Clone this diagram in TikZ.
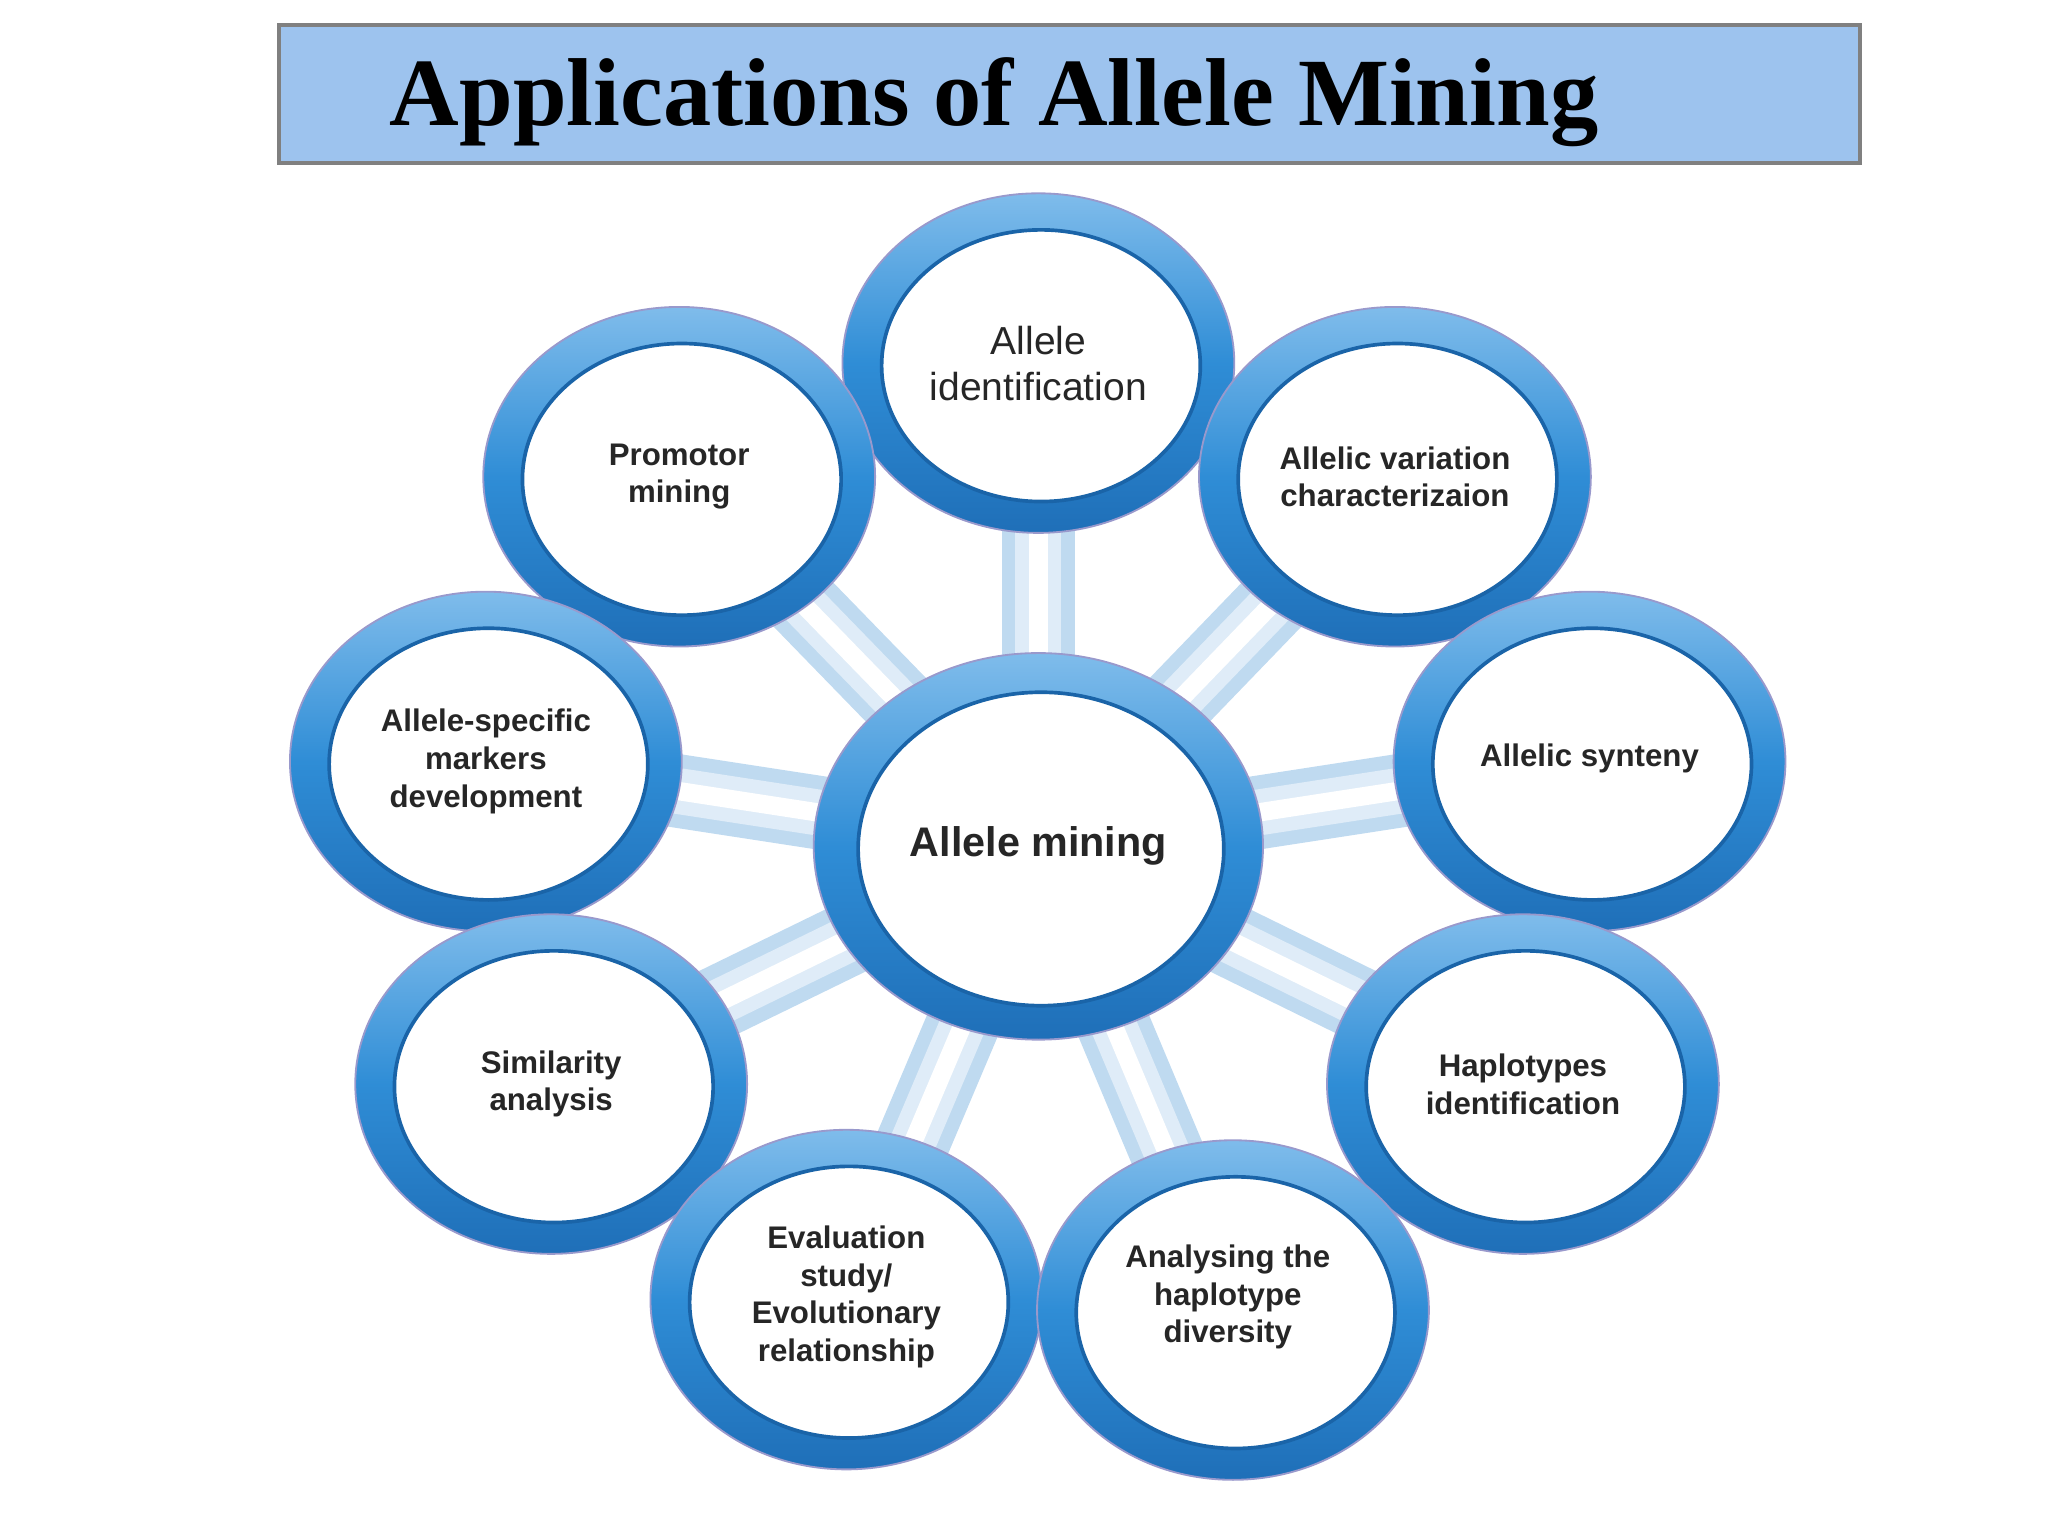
\documentclass[tikz,border=0pt]{standalone}
\usetikzlibrary{calc}
\usepackage{fontspec}
\setmainfont{Liberation Serif}
\setsansfont{Liberation Sans}
\begin{document}
\begin{tikzpicture}[x=0.01cm,y=-0.01cm,
  ring/.style={draw=blue!50!black!40,line width=0.4pt,top color=ringhi,bottom color=ringlo,middle color=ringmid},
  hole/.style={fill=white,draw=ringdk,line width=0.8pt},
  lbl/.style={font=\sffamily\bfseries\fontsize{6.8}{8.2}\selectfont,align=center,text=black!85},
  link/.style={line width=16pt,color=linkc,line cap=butt}]
\definecolor{ringhi}{HTML}{7FBCEB}
\definecolor{ringmid}{HTML}{2F8DD6}
\definecolor{ringlo}{HTML}{1F6FB8}
\definecolor{ringdk}{HTML}{1A64A8}
\definecolor{linkc}{HTML}{BFDAF0}
\definecolor{titlec}{HTML}{9DC3EE}
\useasboundingbox (0,0) rectangle (1568,1176);
\node[draw=gray,line width=0.9pt,fill=titlec,minimum width=12.1cm,minimum height=1.05cm,inner sep=0pt] (title) at (819,72) {};
\node[font=\bfseries\fontsize{21}{24}\selectfont] (tt) at (761,78) {Applications of Allele Mining};
\coordinate (c) at (795,648);
\foreach \n/\x/\y in {a/795/278,b/520/365,d/1068/365,e/372/583,f/1217/583,g/422/830,h/1166/830,i/648/995,j/944/1003}{
  \coordinate (\n) at (\x,\y);
  \draw[link] (c) -- (\n);
  \draw[line width=10pt,color=linkc!50!white] (c) -- (\n);
  \draw[line width=4pt,color=white] (c) -- (\n);
}
\foreach \n/\x/\y in {a/795/278,b/520/365,d/1068/365,e/372/583,f/1217/583,g/422/830,h/1166/830,i/648/995,j/944/1003}{
  \fill[ring] (\x,\y) ellipse [x radius=150,y radius=130];
  \fill[hole] (\x+2,\y+2) ellipse [x radius=122,y radius=104];
}
\fill[ring] (c) ellipse [x radius=172,y radius=148];
\fill[hole] (797,650) ellipse [x radius=140,y radius=120];
\node[lbl,font=\sffamily\bfseries\fontsize{9}{11}\selectfont] (cm) at (795,648) {Allele mining};
\node[lbl,font=\sffamily\fontsize{8.5}{10}\selectfont] (la) at (795,278) {Allele\\identification};
\node[lbl] (lb) at (520,365) {Promotor\\mining};
\node[lbl] (ld) at (1068,365) {Allelic variation\\characterizaion};
\node[lbl] (le) at (372,583) {Allele-specific\\markers\\development};
\node[lbl] (lf) at (1217,581) {Allelic synteny};
\node[lbl] (lg) at (422,830) {Similarity\\analysis};
\node[lbl] (lh) at (1166,830) {Haplotypes\\identification};
\node[lbl] (li) at (648,993) {Evaluation\\study/\\Evolutionary\\relationship};
\node[lbl] (lj) at (940,993) {Analysing the\\haplotype\\diversity};
\end{tikzpicture}
\end{document}
